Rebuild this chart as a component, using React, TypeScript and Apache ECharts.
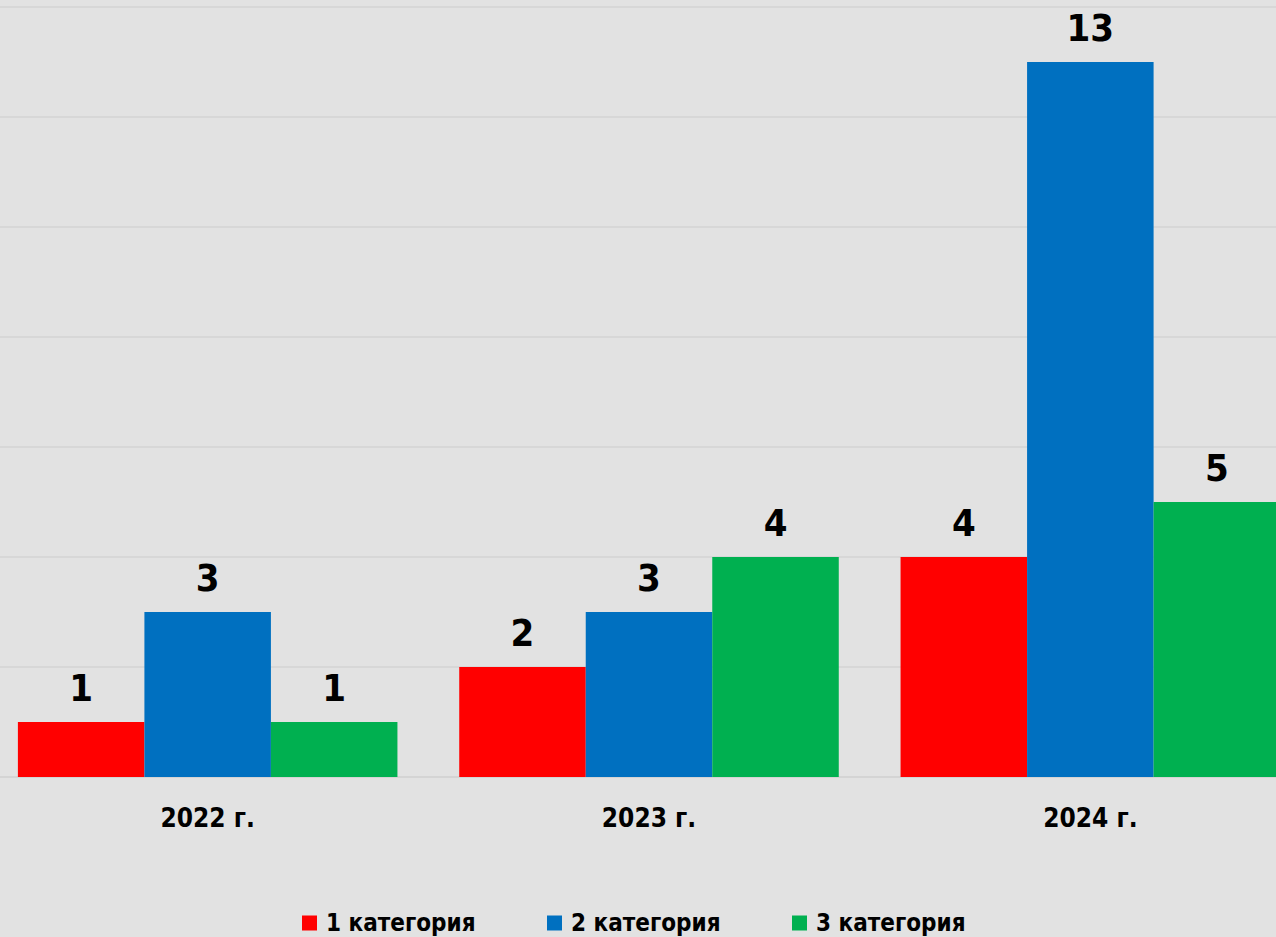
import React, { useEffect, useRef } from "react";
import * as echarts from "echarts";

const categories = ["2022 г.", "2023 г.", "2024 г."];
const seriesNames = ["1 категория", "2 категория", "3 категория"];
const cat1 = [1, 2, 4];
const cat2 = [3, 3, 13];
const cat3 = [1, 4, 5];
const colors = ["#FF0000", "#0070C0", "#00B050"];

const FONT = "'Liberation Sans Narrow', 'Arial Narrow', 'DejaVu Sans Condensed', sans-serif";
const OFFSET_X = -13;
const CHART_W = 1324;

export default function App() {
  const ref = useRef<HTMLDivElement>(null);
  useEffect(() => {
    if (!ref.current) return;
    const chart = echarts.init(ref.current, undefined, { renderer: "svg" });
    const values = [cat1, cat2, cat3];
    const legendLefts = [302, 547, 792].map((x) => x - OFFSET_X);
    chart.setOption({
      animation: false,
      backgroundColor: "#e2e2e2",
      grid: { left: 0, right: 0, top: 7, bottom: 160, containLabel: false },
      legend: seriesNames.map((n, i) => ({
        data: [n],
        left: legendLefts[i],
        top: 911,
        padding: 0,
        itemWidth: 15,
        itemHeight: 15,
        itemGap: 0,
        icon: "rect",
        textStyle: { fontFamily: FONT, fontWeight: "bold", fontSize: 24, color: "#000", padding: [0, 0, 0, 4] },
      })),
      xAxis: {
        type: "category",
        data: categories,
        axisLine: { lineStyle: { color: "#d3d3d3", width: 1.5 } },
        axisTick: { show: false },
        axisLabel: { fontFamily: FONT, fontWeight: "bold", fontSize: 26, color: "#000", margin: 28 },
      },
      yAxis: {
        type: "value",
        min: 0,
        max: 14,
        interval: 2,
        axisLabel: { show: false },
        axisLine: { show: false },
        axisTick: { show: false },
        splitLine: { lineStyle: { color: "#d3d3d3", width: 1.5 } },
      },
      series: seriesNames.map((n, i) => ({
        name: n,
        type: "bar",
        data: values[i],
        barGap: "0%",
        barCategoryGap: "14%",
        itemStyle: { color: colors[i] },
        label: {
          show: true,
          position: "top",
          distance: 15,
          fontFamily: FONT,
          fontWeight: "bold",
          fontSize: 38,
          color: "#000",
        },
      })),
    });
    return () => chart.dispose();
  }, []);
  return (
    <div
      style={{
        position: "fixed",
        left: 0,
        top: 0,
        width: 1276,
        height: 937,
        overflow: "hidden",
        background: "#e2e2e2",
      }}
    >
      <div
        ref={ref}
        style={{ position: "absolute", left: OFFSET_X, top: 0, width: CHART_W, height: 937 }}
      />
    </div>
  );
}
